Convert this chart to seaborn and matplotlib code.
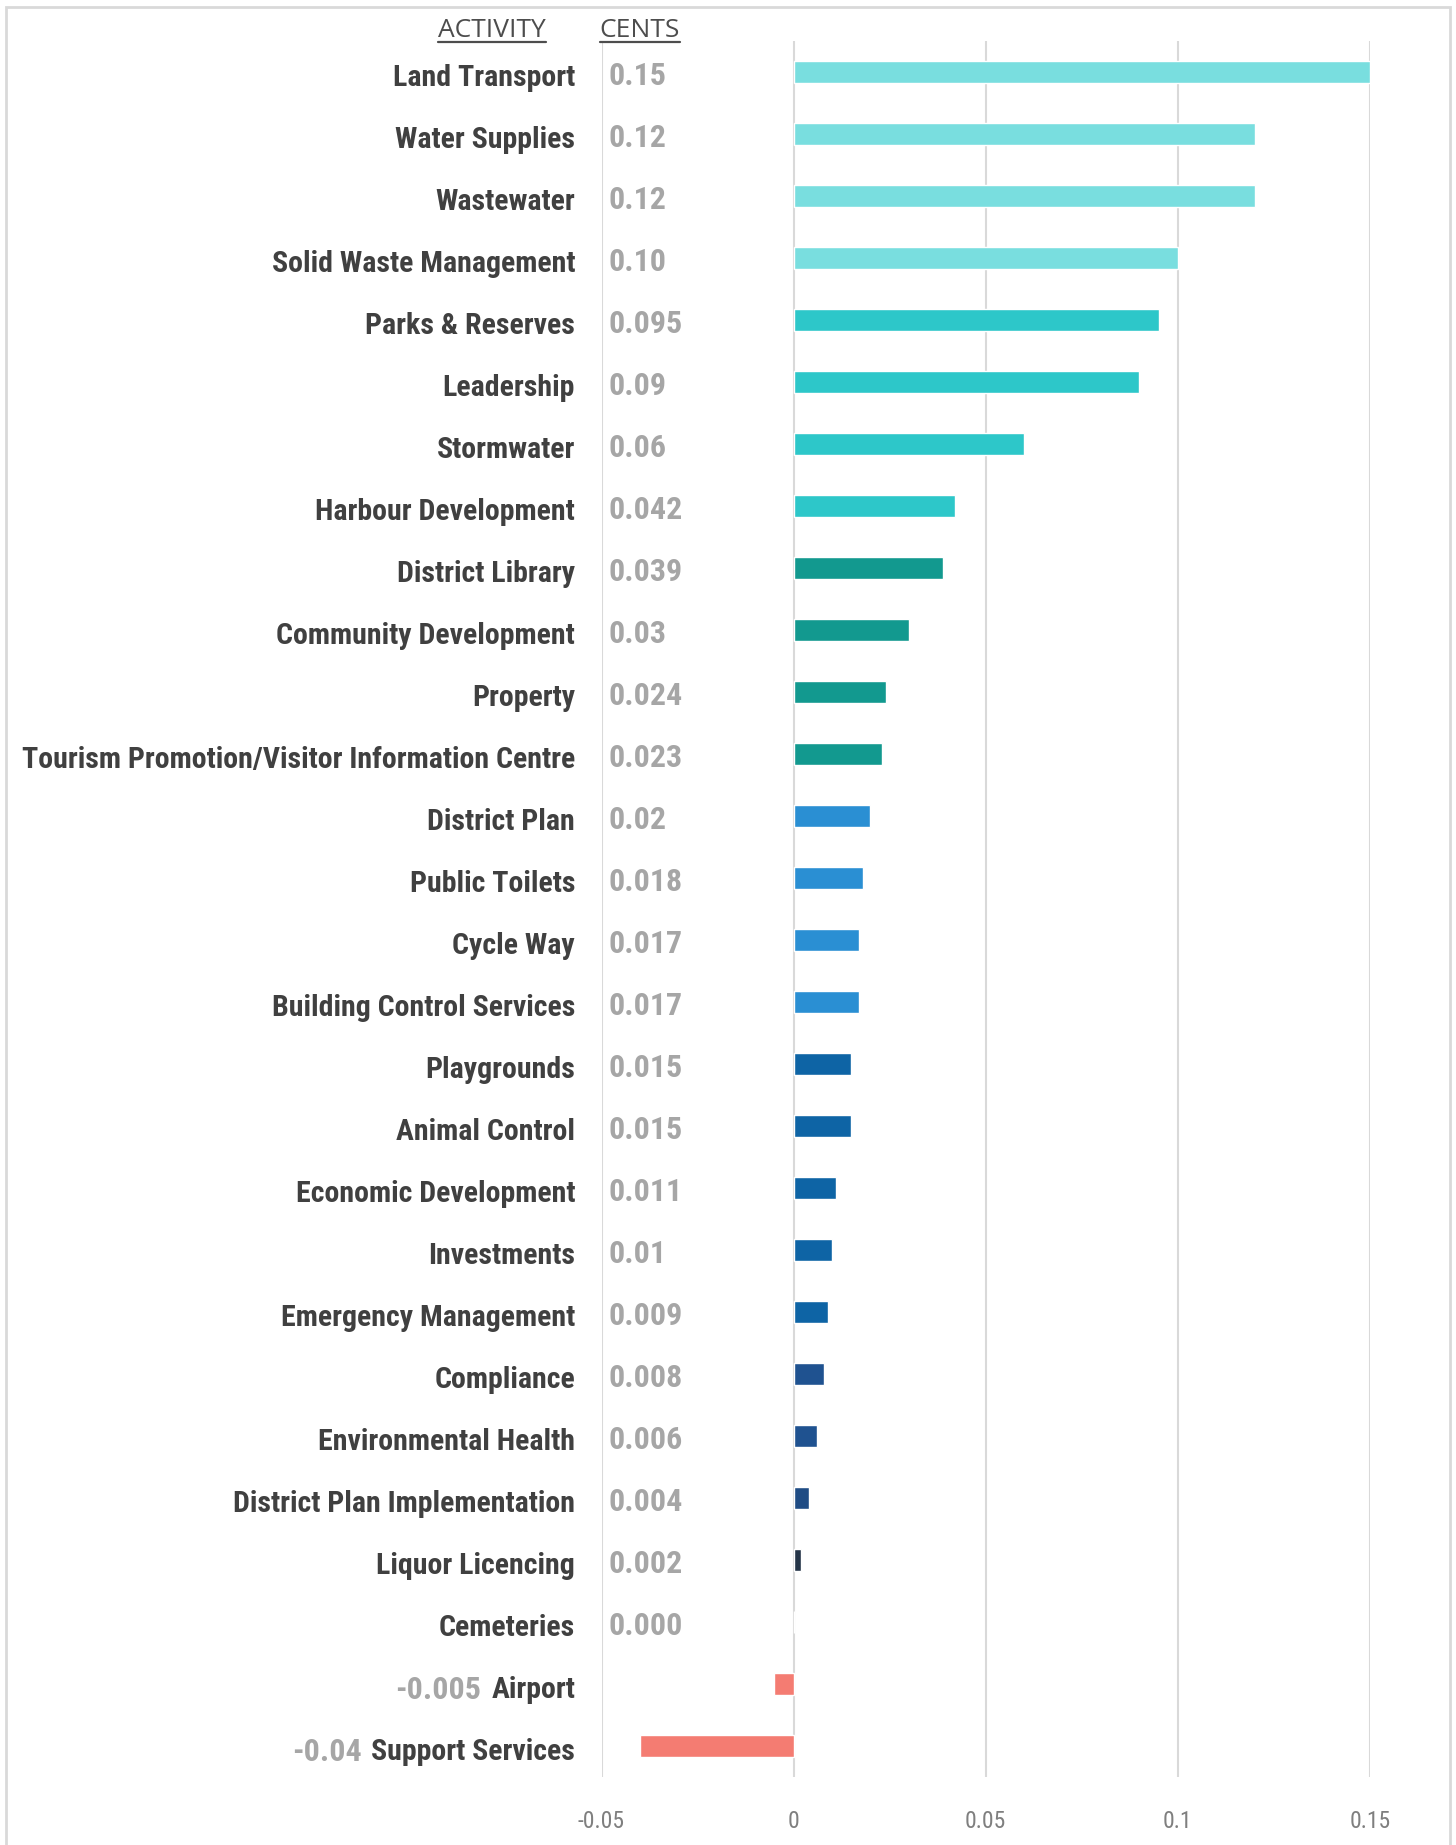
import matplotlib
matplotlib.use("Agg")
import matplotlib.pyplot as plt
import seaborn as sns
import pandas as pd
from matplotlib import font_manager
from matplotlib.font_manager import FontProperties
from matplotlib.patches import Rectangle
from matplotlib.lines import Line2D
from matplotlib.transforms import ScaledTranslation

# ---- data -------------------------------------------------------------
activities = [
    "Land Transport", "Water Supplies", "Wastewater", "Solid Waste Management",
    "Parks & Reserves", "Leadership", "Stormwater", "Harbour Development",
    "District Library", "Community Development", "Property",
    "Tourism Promotion/Visitor Information Centre", "District Plan",
    "Public Toilets", "Cycle Way", "Building Control Services", "Playgrounds",
    "Animal Control", "Economic Development", "Investments",
    "Emergency Management", "Compliance", "Environmental Health",
    "District Plan Implementation", "Liquor Licencing", "Cemeteries",
    "Airport", "Support Services",
]
cents_text = [
    "0.15", "0.12", "0.12", "0.10", "0.095", "0.09", "0.06", "0.042",
    "0.039", "0.03", "0.024", "0.023", "0.02", "0.018", "0.017", "0.017",
    "0.015", "0.015", "0.011", "0.01", "0.009", "0.008", "0.006", "0.004",
    "0.002", "0.000", "-0.005", "-0.04",
]
cents = [float(s) for s in cents_text]
x_ticks = [-0.05, 0, 0.05, 0.1, 0.15]
x_tick_labels = ["-0.05", "0", "0.05", "0.1", "0.15"]

# one colour per activity, grouped in bands
bar_colors = (
    ["#79DEDF"] * 4
    + ["#2DC7C9"] * 4
    + ["#12998F"] * 4
    + ["#2A8FD3"] * 4
    + ["#0E64A5"] * 5
    + ["#1F5290", "#1F5290", "#1F4C84"]
    + ["#243447", "#243447"]
    + ["#F47C72", "#F47C72"]
)

# ---- fonts ------------------------------------------------------------
sns.set_theme(style="white")
available = {f.name for f in font_manager.fontManager.ttflist}
if "Liberation Sans Narrow" in available:
    narrow = dict(family="Liberation Sans Narrow")
elif "Roboto Condensed" in available:
    narrow = dict(family="Roboto Condensed")
else:
    narrow = dict(family="DejaVu Sans", stretch="condensed")
head_family = "Open Sans" if "Open Sans" in available else "DejaVu Sans"

label_font = FontProperties(weight="bold", size=21.5, **narrow)
value_font = FontProperties(weight="bold", size=23, **narrow)
tick_font = FontProperties(weight="normal", size=17, **narrow)

# ---- figure -----------------------------------------------------------
W, H = 1456, 1845
fig = plt.figure(figsize=(W / 100, H / 100), dpi=100)
fig.patch.set_facecolor("white")
ax = fig.add_axes([601.5 / W, 1 - 1777 / H, (1370 - 601.5) / W, (1777 - 41) / H])

df = pd.DataFrame({"activity": activities, "cents": cents})
sns.barplot(
    data=df, x="cents", y="activity", hue="activity", palette=bar_colors,
    legend=False, width=0.35, saturation=1, ax=ax, orient="h",
)

ax.set_xlim(-0.05, 0.15)
ax.set_xticks(x_ticks)
ax.set_xticklabels(x_tick_labels)
ax.set_xlabel("")
ax.set_ylabel("")
ax.set_axisbelow(True)
ax.xaxis.grid(True, color="#d9d9d9", linewidth=1.5)
ax.yaxis.grid(False)
for sp in ax.spines.values():
    sp.set_visible(False)
ax.set_facecolor("white")

ax.tick_params(axis="y", length=0, pad=19)
ax.tick_params(axis="x", length=0, pad=24)
# nudge the activity names a touch below the bar centre
shift_down = ScaledTranslation(0, -2 / 72, fig.dpi_scale_trans)
for lbl in ax.get_yticklabels():
    lbl.set_fontproperties(label_font)
    lbl.set_color("#404040")
    lbl.set_transform(lbl.get_transform() + shift_down)
for lbl in ax.get_xticklabels():
    lbl.set_fontproperties(tick_font)
    lbl.set_color("#7f7f7f")

# value labels: positives in the cents column, negatives ahead of the name
ylabels = ax.get_yticklabels()
for i, (v, s) in enumerate(zip(cents, cents_text)):
    if v >= 0:
        ax.text(-0.0482, i + 0.06, s, ha="left", va="center",
                fontproperties=value_font, color="#a6a6a6")
    else:
        ax.annotate(s, xy=(0, 0.5), xycoords=ylabels[i], xytext=(-7, 0),
                    textcoords="offset points", ha="right", va="center",
                    fontproperties=value_font, color="#a6a6a6")

# column headers with underline
headers = []
for cx, txt in [(492, "ACTIVITY"), (640, "CENTS")]:
    t = fig.text(cx / W, 1 - 37 / H, txt, ha="center", va="baseline",
                 fontsize=19, color="#4d4d4d", family=head_family)
    headers.append(t)

# chart area border
fig.patches.append(Rectangle((6 / W, -0.05), (1450 - 6) / W, (H - 7) / H + 0.05,
                             transform=fig.transFigure, fill=False,
                             edgecolor="#d9d9d9", linewidth=2))

fig.canvas.draw()
renderer = fig.canvas.get_renderer()
for t in headers:
    bb = t.get_window_extent(renderer)
    y = (H - 42) / H
    fig.lines.append(Line2D([bb.x0 / W, bb.x1 / W], [y, y],
                            transform=fig.transFigure, color="#4d4d4d",
                            linewidth=1.6))

fig.savefig("out.png", dpi=100, facecolor="white")
